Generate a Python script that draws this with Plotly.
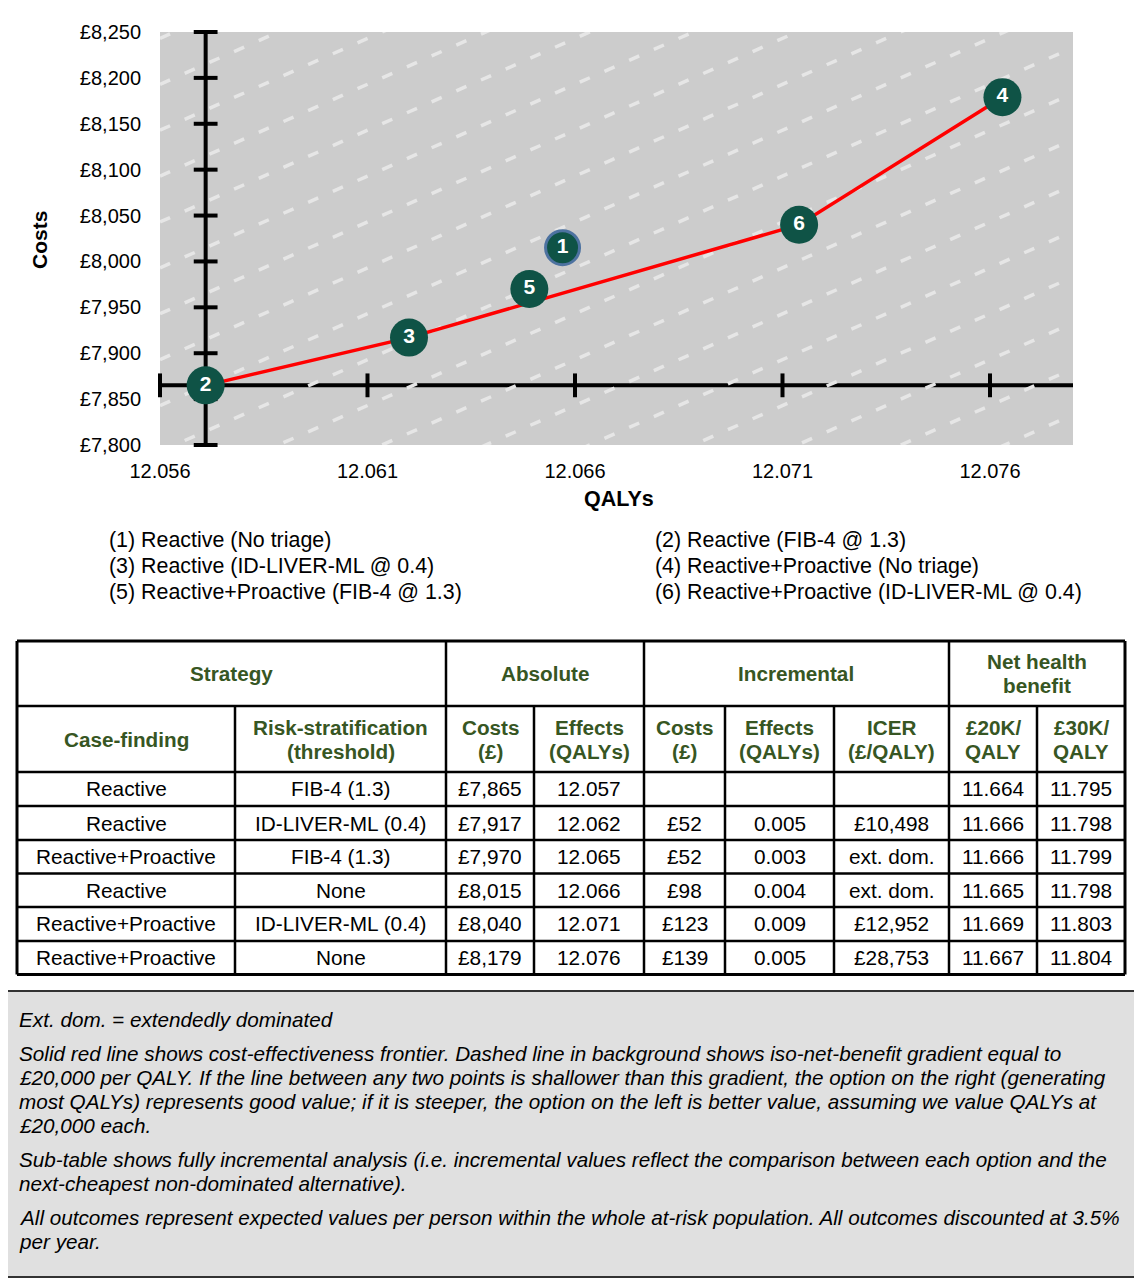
import plotly.graph_objects as go

# the page body adds an 8px margin, so the figure is drawn 8px smaller
OFF = 8
W, H = 1142 - OFF, 1280 - OFF
FONT = "Liberation Sans, Arial, sans-serif"
GREEN = "#0f5346"
HEAD_GREEN = "#375623"

# strategies, numbered as on the chart
labels = ["1", "2", "3", "4", "5", "6"]
qalys = [12.0657, 12.0571, 12.0620, 12.0763, 12.0649, 12.0714]
costs = [8015, 7865, 7917, 8179, 7970, 8040]
frontier = ["2", "3", "6", "4"]
legend_left = [
    "(1) Reactive (No triage)",
    "(3) Reactive (ID-LIVER-ML @ 0.4)",
    "(5) Reactive+Proactive (FIB-4 @ 1.3)",
]
legend_right = [
    "(2) Reactive (FIB-4 @ 1.3)",
    "(4) Reactive+Proactive (No triage)",
    "(6) Reactive+Proactive (ID-LIVER-ML @ 0.4)",
]

x_ticks = [12.056, 12.061, 12.066, 12.071, 12.076]
y_ticks = [7800, 7850, 7900, 7950, 8000, 8050, 8100, 8150, 8200, 8250]
x_range = [12.056, 12.078]
y_range = [7800, 8250]

# iso-net-benefit gradient (GBP per QALY) and spacing of the dashed lines
wtp = 20000
iso_step = 50

# sub-table
case_finding = ["Reactive", "Reactive", "Reactive+Proactive", "Reactive",
                "Reactive+Proactive", "Reactive+Proactive"]
risk_strat = ["FIB-4 (1.3)", "ID-LIVER-ML (0.4)", "FIB-4 (1.3)", "None",
              "ID-LIVER-ML (0.4)", "None"]
abs_costs = ["£7,865", "£7,917", "£7,970", "£8,015", "£8,040", "£8,179"]
abs_effects = ["12.057", "12.062", "12.065", "12.066", "12.071", "12.076"]
inc_costs = ["", "£52", "£52", "£98", "£123", "£139"]
inc_effects = ["", "0.005", "0.003", "0.004", "0.009", "0.005"]
icer = ["", "£10,498", "ext. dom.", "ext. dom.", "£12,952", "£28,753"]
nhb_20k = ["11.664", "11.666", "11.666", "11.665", "11.669", "11.667"]
nhb_30k = ["11.795", "11.798", "11.799", "11.798", "11.803", "11.804"]

group_headers = [("Strategy", 0, 2), ("Absolute", 2, 4),
                 ("Incremental", 4, 7), ("Net health|benefit", 7, 9)]
col_headers = ["Case-finding", "Risk-stratification|(threshold)", "Costs|(£)",
               "Effects|(QALYs)", "Costs|(£)", "Effects|(QALYs)",
               "ICER|(£/QALY)", "£20K/|QALY", "£30K/|QALY"]

footnotes = [
    ["Ext. dom. = extendedly dominated"],
    ["Solid red line shows cost-effectiveness frontier. Dashed line in background shows iso-net-benefit gradient equal to",
     "£20,000 per QALY. If the line between any two points is shallower than this gradient, the option on the right (generating",
     "most QALYs) represents good value; if it is steeper, the option on the left is better value, assuming we value QALYs at",
     "£20,000 each."],
    ["Sub-table shows fully incremental analysis (i.e. incremental values reflect the comparison between each option and the",
     "next-cheapest non-dominated alternative)."],
    ["All outcomes represent expected values per person within the whole at-risk population. All outcomes discounted at 3.5%",
     "per year."],
]

# layout helpers (page pixel -> paper)
def px(x):
    return (x - OFF) / W


def py(y):
    return 1 - (y - OFF) / H


annotations = []
shapes = []


def text(s, x, y, size=20, color="black", anchor="center"):
    annotations.append(dict(
        text=s, x=px(x), y=py(y), xref="paper", yref="paper",
        xanchor=anchor, yanchor="middle", showarrow=False,
        font=dict(family=FONT, size=size, color=color),
    ))


def hline(x0, x1, y, width=2.5, color="black"):
    shapes.append(dict(type="line", xref="paper", yref="paper",
                       x0=px(x0), x1=px(x1), y0=py(y), y1=py(y),
                       line=dict(color=color, width=width)))


def vline(x, y0, y1, width=2.5, color="black"):
    shapes.append(dict(type="line", xref="paper", yref="paper",
                       x0=px(x), x1=px(x), y0=py(y0), y1=py(y1),
                       line=dict(color=color, width=width)))


fig = go.Figure()

# crossing axes through strategy 2
base_x = qalys[labels.index("2")]
base_y = costs[labels.index("2")]
shapes.append(dict(type="line", xref="x", yref="y", layer="between",
                   x0=base_x, x1=base_x, y0=y_range[0], y1=y_range[1],
                   line=dict(color="black", width=4)))
shapes.append(dict(type="line", xref="x", yref="y", layer="between",
                   x0=x_range[0], x1=x_range[1], y0=base_y, y1=base_y,
                   line=dict(color="black", width=4)))

fig.add_trace(go.Scatter(
    x=x_ticks, y=[base_y] * len(x_ticks), mode="markers", cliponaxis=False,
    marker=dict(symbol="line-ns", size=17, line=dict(color="black", width=4)),
    hoverinfo="skip", showlegend=False,
))
fig.add_trace(go.Scatter(
    x=[base_x] * len(y_ticks), y=y_ticks, mode="markers", cliponaxis=False,
    marker=dict(symbol="line-ew", size=17, line=dict(color="black", width=4)),
    hoverinfo="skip", showlegend=False,
))

# dashed iso-net-benefit lines
iso_x, iso_y = [], []
for k in range(-12, 12):
    for xv in x_range:
        iso_x.append(xv)
        iso_y.append(base_y + k * iso_step + wtp * (xv - base_x))
    iso_x.append(None)
    iso_y.append(None)
fig.add_trace(go.Scatter(
    x=iso_x, y=iso_y, mode="lines", hoverinfo="skip", showlegend=False,
    line=dict(color="#e6e6e6", width=3.5, dash="11px,16px"),
))

# frontier
fx = [qalys[labels.index(s)] for s in frontier]
fy = [costs[labels.index(s)] for s in frontier]
fig.add_trace(go.Scatter(
    x=fx, y=fy, mode="lines", line=dict(color="#ff0000", width=3.5),
    hoverinfo="skip", showlegend=False,
))

fig.add_trace(go.Scatter(
    x=qalys, y=costs, mode="markers+text", text=labels,
    textposition="middle center", cliponaxis=False,
    textfont=dict(family=FONT, size=21, color="white", weight="bold"),
    marker=dict(
        color=GREEN, opacity=1,
        size=[34, 38, 38, 38, 38, 38],
        line=dict(color=["#4d72a0", GREEN, GREEN, GREEN, GREEN, GREEN],
                  width=[3, 0, 0, 0, 0, 0]),
    ),
    showlegend=False,
))

# axis titles
text("<b>QALYs</b>", 619, 499, size=21.5)
annotations.append(dict(
    text="<b>Costs</b>", x=px(40), y=py(240), xref="paper", yref="paper",
    textangle=-90, showarrow=False, xanchor="center", yanchor="middle",
    font=dict(family=FONT, size=21, color="black"),
))

# legend text
for i, s in enumerate(legend_left):
    text(s, 107, 540 + 26 * i, size=21.4, anchor="left")
for i, s in enumerate(legend_right):
    text(s, 653, 540 + 26 * i, size=21.4, anchor="left")

# table
col_edges = [17, 235, 446, 534, 644, 725, 834, 949, 1037, 1125]
row_edges = [641, 706, 772, 806, 840, 873.5, 907, 941, 974.5]
line_gap = 24

for s, c0, c1 in group_headers:
    cx = (col_edges[c0] + col_edges[c1]) / 2
    cy = (row_edges[0] + row_edges[1]) / 2
    parts = s.split("|")
    for j, p in enumerate(parts):
        text("<b>%s</b>" % p, cx, cy + (j - (len(parts) - 1) / 2) * line_gap,
             size=20.7, color=HEAD_GREEN)
for c, s in enumerate(col_headers):
    cx = (col_edges[c] + col_edges[c + 1]) / 2
    cy = (row_edges[1] + row_edges[2]) / 2
    parts = s.split("|")
    for j, p in enumerate(parts):
        text("<b>%s</b>" % p, cx, cy + (j - (len(parts) - 1) / 2) * line_gap,
             size=20.7, color=HEAD_GREEN)

columns = [case_finding, risk_strat, abs_costs, abs_effects, inc_costs,
           inc_effects, icer, nhb_20k, nhb_30k]
for c, col in enumerate(columns):
    cx = (col_edges[c] + col_edges[c + 1]) / 2
    for r, v in enumerate(col):
        cy = (row_edges[r + 2] + row_edges[r + 3]) / 2
        if v:
            text(v, cx, cy, size=20.8)

for y in row_edges:
    hline(col_edges[0], col_edges[-1], y, width=3 if y in (row_edges[0], row_edges[-1]) else 2.5)
for c, x in enumerate(col_edges):
    w = 3 if c in (0, len(col_edges) - 1) else 2.5
    if c in (0, 2, 4, 7, 9):
        vline(x, row_edges[0], row_edges[-1], width=w)
    else:
        vline(x, row_edges[1], row_edges[-1], width=w)

# footnote box
shapes.append(dict(type="rect", xref="paper", yref="paper", layer="below",
                   x0=px(OFF - 2), x1=px(1140), y0=py(991), y1=py(1277),
                   fillcolor="#e0e0e0", line=dict(color="#333333", width=2)))
y = 1019
for para in footnotes:
    for line in para:
        text("<i>%s</i>" % line, 17, y, size=20.7, anchor="left")
        y += 24
    y += 10

# right-hand frame line
vline(1140, OFF, 1277, width=2, color="#555555")

fig.update_layout(
    template="none",
    width=W, height=H, margin=dict(l=0, r=0, t=0, b=0, autoexpand=False),
    paper_bgcolor="white", plot_bgcolor="#cccccc",
    font=dict(family=FONT, size=20, color="black"),
    showlegend=False, annotations=annotations, shapes=shapes,
    xaxis=dict(domain=[px(160), px(1073)], range=x_range, tickvals=x_ticks,
               ticktext=["%.3f" % v for v in x_ticks], automargin=False,
               showgrid=False, zeroline=False,
               showline=False, ticks="outside", ticklen=8,
               tickcolor="rgba(0,0,0,0)", fixedrange=True),
    yaxis=dict(domain=[py(445), py(32)], range=y_range, tickvals=y_ticks,
               ticktext=["£{:,}".format(v) for v in y_ticks], automargin=False,
               showgrid=False, zeroline=False, showline=False,
               ticks="outside", ticklen=14,
               tickcolor="rgba(0,0,0,0)", fixedrange=True),
)

fig.write_html("out.html")
